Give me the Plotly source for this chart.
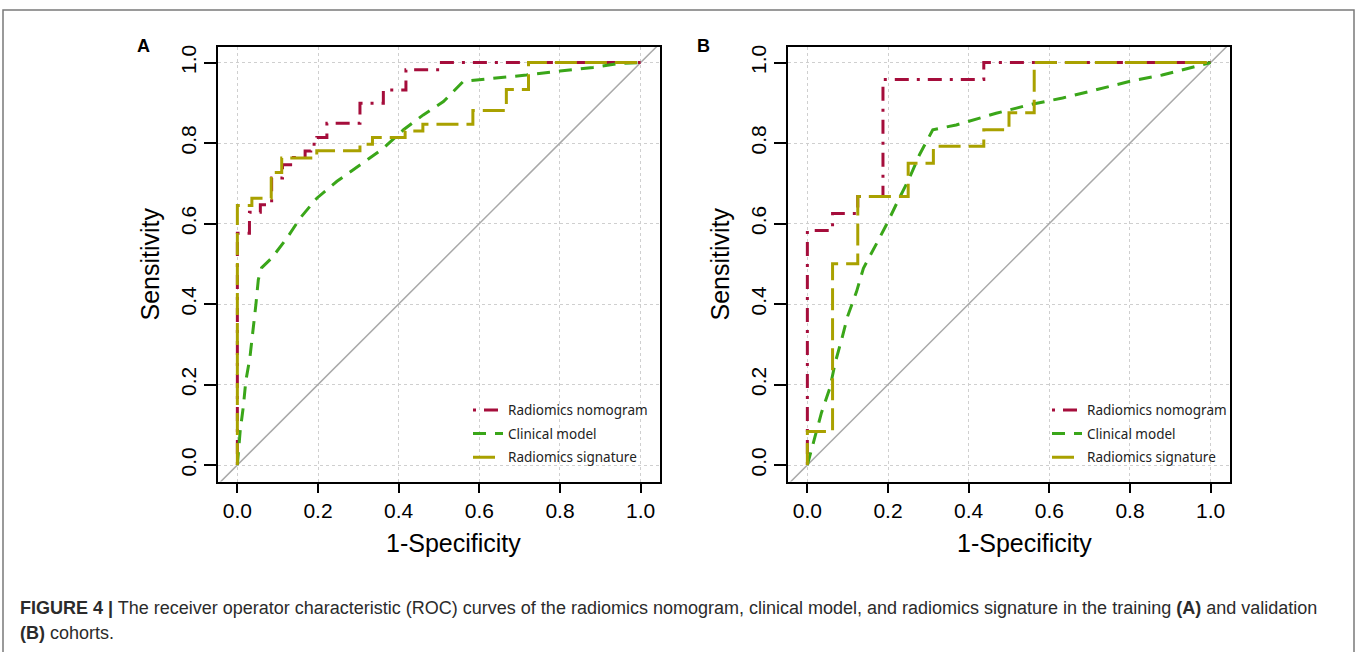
import plotly.graph_objects as go

W, H = 1357, 652

# ---------------- data ----------------
series_names = ["Radiomics nomogram", "Clinical model", "Radiomics signature"]
tick_vals = [0.0, 0.2, 0.4, 0.6, 0.8, 1.0]
tick_text = ["0.0", "0.2", "0.4", "0.6", "0.8", "1.0"]
x_title = "1-Specificity"
y_title = "Sensitivity"
panel_letters = ["A", "B"]

# Panel A (training)
nomA_x = [0, 0, 0.03, 0.03, 0.057, 0.057, 0.085, 0.085, 0.112, 0.112, 0.139, 0.139,
          0.168, 0.168, 0.182, 0.182, 0.197, 0.197, 0.222, 0.222, 0.304, 0.304,
          0.362, 0.362, 0.418, 0.418, 0.502, 0.502, 1.0]
nomA_y = [0, 0.576, 0.576, 0.628, 0.628, 0.647, 0.647, 0.713, 0.713, 0.746, 0.746, 0.764,
          0.764, 0.78, 0.78, 0.797, 0.797, 0.814, 0.814, 0.849, 0.849, 0.899,
          0.899, 0.932, 0.932, 0.982, 0.982, 1.0, 1.0]

clinA_x = [0, 0.002, 0.007, 0.015, 0.021, 0.031, 0.039, 0.046, 0.052, 0.06, 0.085, 0.123,
           0.156, 0.197, 0.247, 0.304, 0.362, 0.412, 0.461, 0.511, 0.56, 0.635, 0.717,
           0.8, 0.882, 0.948, 1.0]
clinA_y = [0, 0.027, 0.085, 0.147, 0.209, 0.266, 0.332, 0.399, 0.461, 0.49, 0.514, 0.564,
           0.614, 0.663, 0.705, 0.746, 0.787, 0.833, 0.870, 0.903, 0.953, 0.961, 0.969,
           0.979, 0.988, 0.998, 1.0]

sigA_x = [0, 0, 0.036, 0.036, 0.084, 0.084, 0.11, 0.11, 0.197, 0.197, 0.304, 0.304,
          0.335, 0.335, 0.416, 0.416, 0.46, 0.46, 0.584, 0.584, 0.667, 0.667,
          0.722, 0.722, 1.0]
sigA_y = [0, 0.645, 0.645, 0.663, 0.663, 0.727, 0.727, 0.763, 0.763, 0.781, 0.781, 0.797,
          0.797, 0.814, 0.814, 0.83, 0.83, 0.847, 0.847, 0.881, 0.881, 0.933,
          0.933, 1.0, 1.0]

# Panel B (validation)
nomB_x = [0, 0, 0.0625, 0.0625, 0.125, 0.125, 0.1875, 0.1875, 0.4375, 0.4375, 1.0]
nomB_y = [0, 0.583, 0.583, 0.625, 0.625, 0.667, 0.667, 0.958, 0.958, 1.0, 1.0]

clinB_x = [0, 0.014, 0.035, 0.056, 0.069, 0.085, 0.1, 0.122, 0.139, 0.172, 0.196, 0.224,
           0.253, 0.278, 0.311, 0.369, 0.468, 0.55, 0.633, 0.715, 0.798, 0.88, 1.0]
clinB_y = [0, 0.052, 0.13, 0.192, 0.254, 0.312, 0.37, 0.431, 0.489, 0.551, 0.597, 0.655,
           0.713, 0.771, 0.833, 0.845, 0.874, 0.895, 0.912, 0.932, 0.953, 0.969, 1.0]

sigB_x = [0, 0, 0.0625, 0.0625, 0.125, 0.125, 0.25, 0.25, 0.3125, 0.3125, 0.4375, 0.4375,
          0.5, 0.5, 0.5625, 0.5625, 1.0]
sigB_y = [0, 0.083, 0.083, 0.5, 0.5, 0.667, 0.667, 0.75, 0.75, 0.792, 0.792, 0.833,
          0.833, 0.875, 0.875, 1.0, 1.0]

diag = [-0.1, 1.1]

caption_line1 = ("<b>FIGURE 4 |</b> The receiver operator characteristic (ROC) curves of the radiomics "
                 "nomogram, clinical model, and radiomics signature in the training <b>(A)</b> and validation")
caption_line2 = "<b>(B)</b> cohorts."

# ---------------- styling ----------------
colors = ["#A50D3B", "#3AA619", "#A9A100"]
dashes = ["3px,8px,14px,8px", "13px,9px", "22px,8px"]
line_w = 3

fig = go.Figure()

panels = [
    ("x", "y", "legend", [(nomA_x, nomA_y), (clinA_x, clinA_y), (sigA_x, sigA_y)]),
    ("x2", "y2", "legend2", [(nomB_x, nomB_y), (clinB_x, clinB_y), (sigB_x, sigB_y)]),
]
for xa, ya, lg, data in panels:
    fig.add_trace(go.Scatter(x=diag, y=diag, mode="lines", xaxis=xa, yaxis=ya,
                             line=dict(color="#A9A9A9", width=1.5), showlegend=False,
                             hoverinfo="skip"))
    for i, (xs, ys) in enumerate(data):
        fig.add_trace(go.Scatter(x=xs, y=ys, mode="lines", xaxis=xa, yaxis=ya,
                                 name=series_names[i], legend=lg, legendgroup=f"{lg}{i}",
                                 line=dict(color=colors[i], width=line_w, dash=dashes[i])))

tick_font = dict(family="Liberation Sans, Arial, sans-serif", size=21, color="#000")
title_font = dict(family="Liberation Sans, Arial, sans-serif", size=25, color="#000")

def xaxis(dom):
    return dict(domain=dom, range=[-0.048, 1.048], tickvals=tick_vals, ticktext=tick_text,
                ticks="outside", ticklen=10, tickwidth=1.5, tickcolor="#000",
                showline=True, mirror=True, linecolor="#000", linewidth=1.5,
                showgrid=True, gridcolor="#CFCFCF", griddash="dot", gridwidth=1,
                zeroline=False, tickfont=tick_font)

def yaxis(anchor):
    return dict(domain=[1 - 481 / H, 1 - 45 / H], range=[-0.041, 1.039], anchor=anchor,
                tickvals=tick_vals, ticktext=tick_text, tickangle=-90,
                ticks="outside", ticklen=12, tickwidth=1.5, tickcolor="#000",
                showline=True, mirror=True, linecolor="#000", linewidth=1.5,
                showgrid=True, gridcolor="#CFCFCF", griddash="dot", gridwidth=1,
                zeroline=False, tickfont=tick_font,
                title=dict(text=y_title, font=title_font, standoff=10))

leg_common = dict(bgcolor="rgba(0,0,0,0)", borderwidth=0, xanchor="left", yanchor="top",
                  traceorder="grouped", tracegroupgap=3,
                  font=dict(family="Noto Sans, Open Sans, sans-serif", size=13.5, color="#222"))

fig.update_layout(
    width=W, height=H, margin=dict(l=0, r=0, t=0, b=0),
    paper_bgcolor="white", plot_bgcolor="white",
    xaxis=dict(xaxis([218 / W, 660 / W]), anchor="y"),
    yaxis=yaxis("x"),
    xaxis2=dict(xaxis([788 / W, 1230 / W]), anchor="y2"),
    yaxis2=yaxis("x2"),
    legend=dict(leg_common, x=468 / W, y=1 - 394 / H),
    legend2=dict(leg_common, x=1047 / W, y=1 - 394 / H),
)

# x-axis titles (offset as in the original figure)
for cx in [453, 1024]:
    fig.add_annotation(x=cx / W, y=1 - 543 / H, xref="paper", yref="paper", text=x_title,
                       showarrow=False, xanchor="center", yanchor="middle", font=title_font)

# panel letters
for txt, px in zip(panel_letters, [143, 703]):
    fig.add_annotation(x=px / W, y=1 - 44 / H, xref="paper", yref="paper", text=f"<b>{txt}</b>",
                       showarrow=False, xanchor="center", yanchor="middle",
                       font=dict(family="Liberation Sans, Arial, sans-serif", size=18, color="#000"))

cap_font = dict(family="Liberation Sans Narrow, Arial Narrow, Liberation Sans, sans-serif",
                size=18, color="#2b2b2b")
fig.add_annotation(x=18 / W, y=1 - 608 / H, xref="paper", yref="paper", text=caption_line1,
                   showarrow=False, xanchor="left", yanchor="middle", font=cap_font)
fig.add_annotation(x=18 / W, y=1 - 633 / H, xref="paper", yref="paper", text=caption_line2,
                   showarrow=False, xanchor="left", yanchor="middle", font=cap_font)

# outer frame
fig.add_shape(type="rect", xref="paper", yref="paper", x0=3 / W, x1=1354 / W,
              y0=-0.2, y1=1 - 8 / H, line=dict(color="#7a7a7a", width=1.5), layer="below")

fig.write_html("out.html", config={"displayModeBar": False},
               post_script="document.body.style.margin='0px';")
